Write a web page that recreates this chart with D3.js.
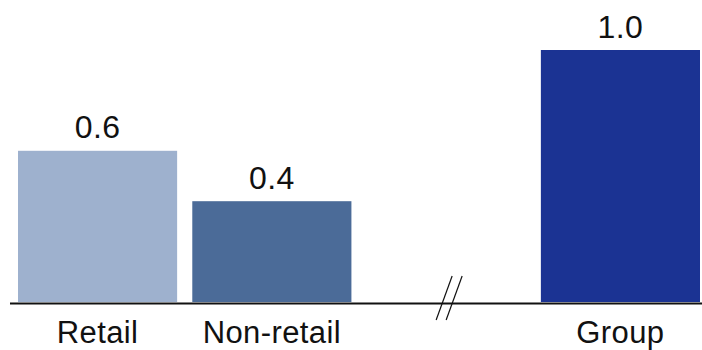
<!DOCTYPE html>
<html>
<head>
<meta charset="utf-8">
<script src="https://cdn.jsdelivr.net/npm/d3@7"></script>
<style>
  html, body { margin: 0; padding: 0; background: #fff; }
  svg text { font-family: "Liberation Sans", Arial, sans-serif; fill: #111; letter-spacing: 0.4px; }
</style>
</head>
<body>
<svg id="chart" width="702" height="350"></svg>
<script>
// Bar categories, values and colours; the empty slot holds the axis break
const categories = ["Retail", "Non-retail", "", "Group"];
const values = [0.6, 0.4, null, 1.0];
const colors = ["#9eb1ce", "#4b6b98", null, "#1b3393"];
const valueLabels = ["0.6", "0.4", null, "1.0"];

const svg = d3.select("#chart");
const width = 702;
const baseY = 302;

const x = d3.scaleBand()
  .domain(categories.map((c, i) => i))
  .range([18, 700])
  .paddingInner(0.087)
  .paddingOuter(0);

const y = d3.scaleLinear().domain([0, 1]).range([baseY, 50]);

const data = categories.map((c, i) => ({ i, c, v: values[i], color: colors[i], label: valueLabels[i] }));
const bars = data.filter(d => d.v != null);

svg.selectAll("rect.bar")
  .data(bars)
  .join("rect")
  .attr("class", "bar")
  .attr("x", d => x(d.i))
  .attr("width", x.bandwidth())
  .attr("y", d => y(d.v))
  .attr("height", d => y(0) - y(d.v))
  .attr("fill", d => d.color);

svg.selectAll("text.value")
  .data(bars)
  .join("text")
  .attr("class", "value")
  .attr("x", d => x(d.i) + x.bandwidth() / 2)
  .attr("y", d => y(d.v) - 12.5)
  .attr("text-anchor", "middle")
  .attr("font-size", 32)
  .text(d => d.label);

// Baseline
svg.append("line")
  .attr("x1", 10).attr("x2", width)
  .attr("y1", baseY + 1.5).attr("y2", baseY + 1.5)
  .attr("stroke", "#111").attr("stroke-width", 2.2);

// Category labels
svg.selectAll("text.cat")
  .data(data.filter(d => d.c))
  .join("text")
  .attr("class", "cat")
  .attr("x", d => x(d.i) + x.bandwidth() / 2)
  .attr("y", 343)
  .attr("text-anchor", "middle")
  .attr("font-size", 31)
  .text(d => d.c);

// Axis break marks in the empty slot
const cx = x(2) + x.bandwidth() / 2 + 3;
[-5, 5].forEach(off => {
  svg.append("line")
    .attr("x1", cx + off - 8).attr("y1", baseY + 18)
    .attr("x2", cx + off + 8).attr("y2", baseY - 26)
    .attr("stroke", "#111").attr("stroke-width", 1.2);
});
</script>
</body>
</html>
